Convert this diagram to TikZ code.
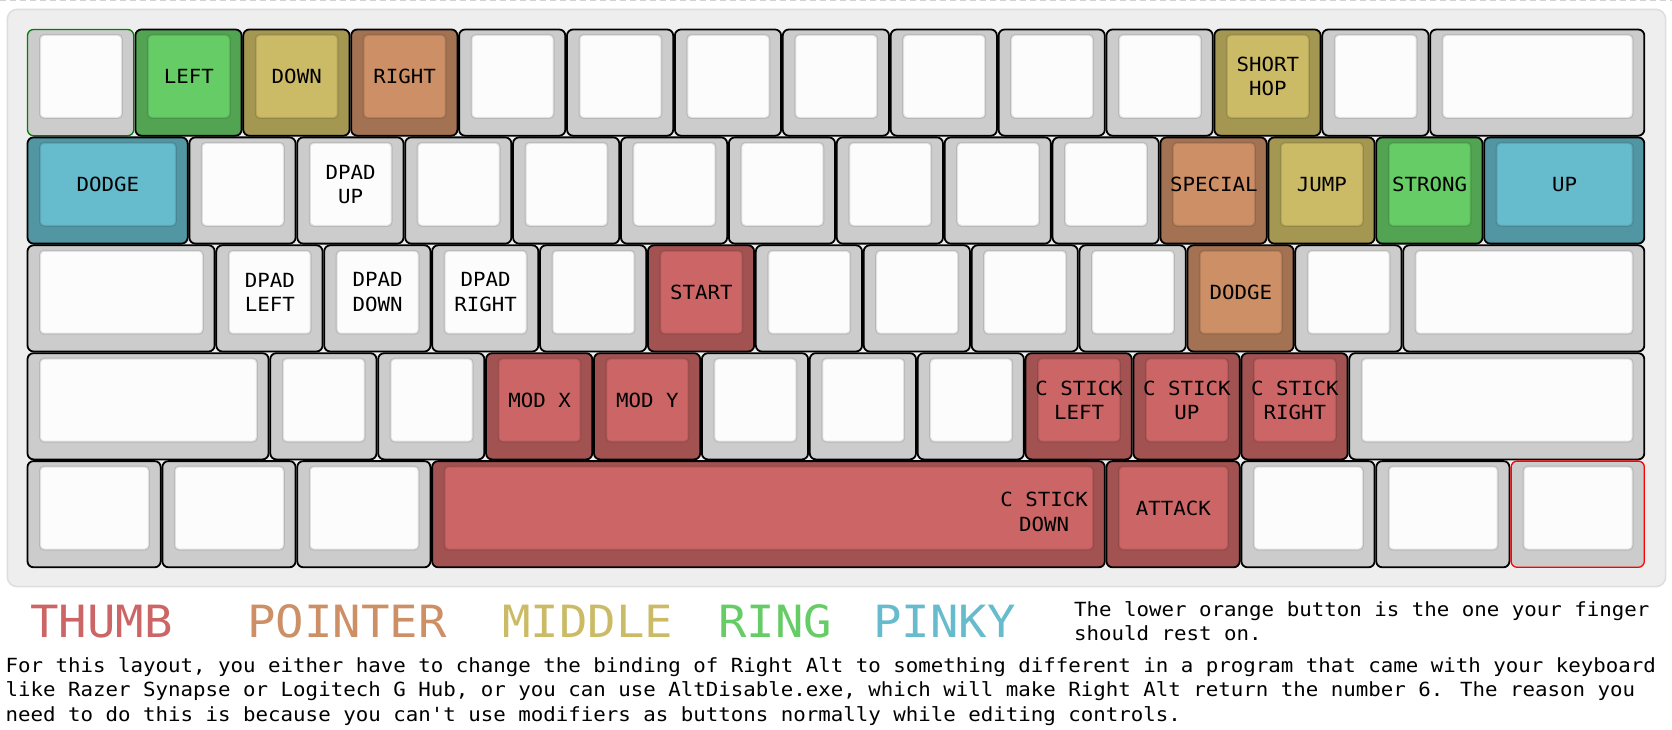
\documentclass[tikz,border=0pt]{standalone}
\usepackage{fontspec}
\usepackage{tikz}
\usetikzlibrary{positioning}
\newfontfamily\kbfont[FakeStretch=1.065,Ligatures=TeXOff]{DejaVu Sans Mono}

\definecolor{blankCap}{HTML}{CCCCCC}
\definecolor{blankTop}{HTML}{FCFCFC}
\definecolor{thumbCap}{HTML}{A35252}
\definecolor{thumbTop}{HTML}{CC6666}
\definecolor{pointerCap}{HTML}{A37252}
\definecolor{pointerTop}{HTML}{CC8F66}
\definecolor{middleCap}{HTML}{A39752}
\definecolor{middleTop}{HTML}{CCBB66}
\definecolor{ringCap}{HTML}{52A352}
\definecolor{ringTop}{HTML}{66CC66}
\definecolor{pinkyCap}{HTML}{5296A3}
\definecolor{pinkyTop}{HTML}{66BBCC}
\definecolor{panelFill}{HTML}{EEEEEE}
\definecolor{panelLine}{HTML}{DDDDDD}
\definecolor{edgeGreen}{HTML}{008000}
\definecolor{edgeRed}{HTML}{FF0000}

\tikzset{
  keycap/.style={draw=black,line width=1.8pt,rounded corners=6pt,inner sep=0pt,outer sep=0pt,minimum height=106.2pt},
  keytop/.style={draw=black,draw opacity=0.1,line width=2pt,rounded corners=4pt,inner sep=0pt,outer sep=0pt,minimum height=82.9pt},
  keylabel/.style={font=\kbfont\fontsize{19.5}{24.5}\selectfont,align=center,inner sep=0pt,text=black},
  legend/.style={font=\kbfont\fontsize{44.4}{50}\selectfont,anchor=base west,inner sep=0pt},
  note/.style={font=\kbfont\fontsize{19.5}{24.6}\selectfont,align=left,anchor=base west,inner sep=0pt,text=black}
}

\newcommand{\kbu}{107.9}
% [extra options]{name}{column}{row}{width}{finger}{label}
\newcommand{\kbkey}[7][]{%
  \pgfmathsetmacro\kx{27+#3*\kbu}%
  \pgfmathsetmacro\ky{29+#4*\kbu}%
  \pgfmathsetmacro\kw{#5*\kbu}%
  \node[keycap,fill=#6Cap,minimum width=\kw pt-1.7pt,#1] (#2cap) at (\kx+\kw/2-0.35,\ky+\kbu/2-0.35) {};
  \node[keytop,fill=#6Top,minimum width=\kw pt-26pt] (#2) at (\kx+\kw/2,\ky+\kbu/2-6.5) {};
  \node[keylabel] (#2txt) at (#2.center) {#7};
}

\begin{document}
\begin{tikzpicture}[x=1pt,y=-1pt]
  \useasboundingbox (0,0) rectangle (1672,730);
  \draw[gray!35,line width=1.3pt,dash pattern=on 6pt off 4pt] (0,0.7) -- (1672,0.7);
  \draw[panelLine,fill=panelFill,line width=1.5pt,rounded corners=10pt] (7.3,9.3) rectangle (1665.7,586.7);

  % row 1
  \kbkey[draw=edgeGreen,line width=1.3pt]{kEsc}{0}{0}{1}{blank}{}
  \kbkey{kLeft}{1}{0}{1}{ring}{LEFT}
  \kbkey{kDown}{2}{0}{1}{middle}{DOWN}
  \kbkey{kRight}{3}{0}{1}{pointer}{RIGHT}
  \foreach \c in {4,...,10} {\kbkey{kNum\c}{\c}{0}{1}{blank}{}}
  \kbkey{kHop}{11}{0}{1}{middle}{SHORT\\HOP}
  \kbkey{kEq}{12}{0}{1}{blank}{}
  \kbkey{kBksp}{13}{0}{2}{blank}{}

  % row 2
  \kbkey{kDodgeA}{0}{1}{1.5}{pinky}{DODGE}
  \kbkey{kQ}{1.5}{1}{1}{blank}{}
  \kbkey{kDUp}{2.5}{1}{1}{blank}{DPAD\\UP}
  \foreach \c [count=\n] in {3.5,4.5,5.5,6.5,7.5,8.5,9.5} {\kbkey{kTop\n}{\c}{1}{1}{blank}{}}
  \kbkey{kSpecial}{10.5}{1}{1}{pointer}{SPECIAL}
  \kbkey{kJump}{11.5}{1}{1}{middle}{JUMP}
  \kbkey{kStrong}{12.5}{1}{1}{ring}{STRONG}
  \kbkey{kUp}{13.5}{1}{1.5}{pinky}{UP}

  % row 3
  \kbkey{kCaps}{0}{2}{1.75}{blank}{}
  \kbkey{kDLeft}{1.75}{2}{1}{blank}{DPAD\\LEFT}
  \kbkey{kDDown}{2.75}{2}{1}{blank}{DPAD\\DOWN}
  \kbkey{kDRight}{3.75}{2}{1}{blank}{DPAD\\RIGHT}
  \kbkey{kG}{4.75}{2}{1}{blank}{}
  \kbkey{kStart}{5.75}{2}{1}{thumb}{START}
  \foreach \c [count=\n] in {6.75,7.75,8.75,9.75} {\kbkey{kHome\n}{\c}{2}{1}{blank}{}}
  \kbkey{kDodgeB}{10.75}{2}{1}{pointer}{DODGE}
  \kbkey{kQuote}{11.75}{2}{1}{blank}{}
  \kbkey{kEnter}{12.75}{2}{2.25}{blank}{}

  % row 4
  \kbkey{kLShift}{0}{3}{2.25}{blank}{}
  \kbkey{kZ}{2.25}{3}{1}{blank}{}
  \kbkey{kX}{3.25}{3}{1}{blank}{}
  \kbkey{kModX}{4.25}{3}{1}{thumb}{MOD X}
  \kbkey{kModY}{5.25}{3}{1}{thumb}{MOD Y}
  \foreach \c [count=\n] in {6.25,7.25,8.25} {\kbkey{kBot\n}{\c}{3}{1}{blank}{}}
  \kbkey{kCLeft}{9.25}{3}{1}{thumb}{C STICK\\LEFT}
  \kbkey{kCUp}{10.25}{3}{1}{thumb}{C STICK\\UP}
  \kbkey{kCRight}{11.25}{3}{1}{thumb}{C STICK\\RIGHT}
  \kbkey{kRShift}{12.25}{3}{2.75}{blank}{}

  % row 5
  \kbkey{kCtrl}{0}{4}{1.25}{blank}{}
  \kbkey{kWin}{1.25}{4}{1.25}{blank}{}
  \kbkey{kAlt}{2.5}{4}{1.25}{blank}{}
  \kbkey{kSpace}{3.75}{4}{6.25}{thumb}{}
  \node[keylabel,anchor=east] (kSpaceLbl) at ([xshift=-5pt,yshift=-4pt]kSpace.east) {C STICK\\DOWN};
  \kbkey{kAttack}{10}{4}{1.25}{thumb}{ATTACK}
  \kbkey{kFn}{11.25}{4}{1.25}{blank}{}
  \kbkey{kMenu}{12.5}{4}{1.25}{blank}{}
  \kbkey[draw=edgeRed,line width=1.3pt]{kRCtrl}{13.75}{4}{1.25}{blank}{}

  % finger legend
  \node[legend,text=thumbTop] (lgThumb) at (30,637.7) {THUMB};
  \node[legend,text=pointerTop] (lgPointer) at (247,637.7) {POINTER};
  \node[legend,text=middleTop] (lgMiddle) at (502,637.7) {MIDDLE};
  \node[legend,text=ringTop] (lgRing) at (718,637.7) {RING};
  \node[legend,text=pinkyTop] (lgPinky) at (873,637.7) {PINKY};
  % base anchor of a multi-line node sits on its last line
  \node[note] (restNote) at (1074,640.7) {The lower orange button is the one your finger\\should rest on.};
  \node[note] (altNote) at (5.5,721.5) {For this layout, you either have to change the binding of Right Alt to something different in a program that came with your keyboard\\like Razer Synapse or Logitech G Hub, or you can use AltDisable.exe, which will make Right Alt return the number 6. The reason you\\need to do this is because you can't use modifiers as buttons normally while editing controls.};
\end{tikzpicture}
\end{document}
